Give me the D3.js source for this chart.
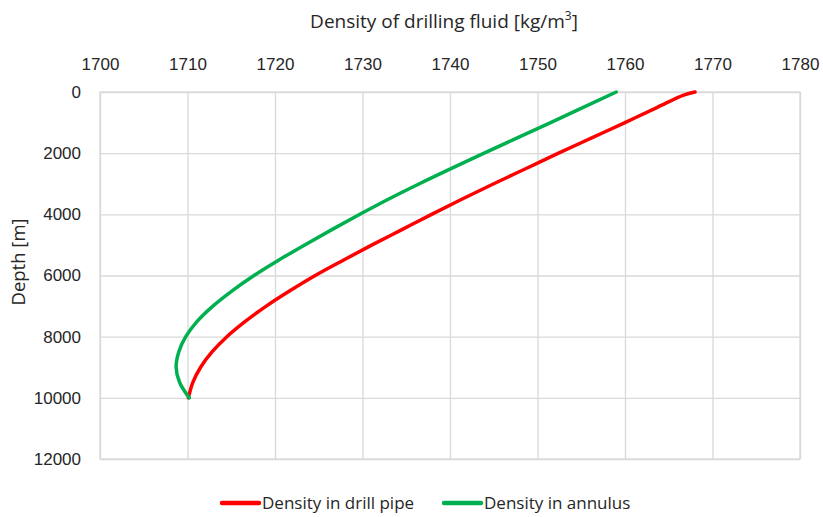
<!DOCTYPE html>
<html>
<head>
<meta charset="utf-8">
<script src="https://cdn.jsdelivr.net/npm/d3@7"></script>
<style>
  body { margin: 0; background: #fff; }
  svg { font-family: 'Open Sans', sans-serif; }
</style>
</head>
<body>
<svg></svg>
<script>
/* global d3 */
const width = 823
const height = 517
const margin = { top: 92, bottom: 58, left: 100, right: 23 }

// depth [m] and density [kg/m3]
const depthPipe = [0, 100, 500, 1000, 1500, 2000, 2500, 3000, 3500, 4000, 4500, 5000, 5500, 6000, 6500, 7000, 7500, 8000, 8500, 9000, 9500, 10000]
const densityPipe = [1768.0, 1766.7, 1763.7, 1760.0, 1756.2, 1752.4, 1748.7, 1745.0, 1741.4, 1737.9, 1734.5, 1731.1, 1727.8, 1724.6, 1721.7, 1719.0, 1716.6, 1714.5, 1712.8, 1711.5, 1710.6, 1710.1]

const depthAnnulus = [0, 1000, 2000, 3000, 3500, 4000, 4500, 5000, 5500, 6000, 6500, 7000, 7500, 8000, 8500, 9000, 9500, 10000]
const densityAnnulus = [1759.0, 1751.5, 1743.9, 1736.5, 1733.0, 1729.7, 1726.5, 1723.4, 1720.4, 1717.6, 1715.1, 1712.9, 1711.1, 1709.8, 1709.0, 1708.7, 1709.1, 1710.2]

const xTicks = [1700, 1710, 1720, 1730, 1740, 1750, 1760, 1770, 1780]
const yTicks = [0, 2000, 4000, 6000, 8000, 10000, 12000]

const series = [
  { name: 'Density in drill pipe', color: '#ff0000', depth: depthPipe, density: densityPipe },
  { name: 'Density in annulus', color: '#00b050', depth: depthAnnulus, density: densityAnnulus }
]

const svg = d3.select('svg').attr('width', width).attr('height', height)

const xScale = d3.scaleLinear()
  .domain([1700, 1780])
  .range([margin.left, width - margin.right])

const yScale = d3.scaleLinear()
  .domain([0, 12000])
  .range([margin.top, height - margin.bottom])

const plotW = width - margin.left - margin.right
const plotH = height - margin.top - margin.bottom

/** axes with gridlines */
const xAxis = d3.axisTop(xScale)
  .tickValues(xTicks)
  .tickSizeInner(-plotH)
  .tickSizeOuter(0)
  .tickPadding(22)
  .tickFormat(d3.format('d'))

const yAxis = d3.axisLeft(yScale)
  .tickValues(yTicks)
  .tickSizeInner(-plotW)
  .tickSizeOuter(0)
  .tickPadding(19)
  .tickFormat(d3.format('d'))

const gx = svg.append('g')
  .attr('transform', `translate(0, ${margin.top})`)
  .call(xAxis)

const gy = svg.append('g')
  .attr('transform', `translate(${margin.left}, 0)`)
  .call(yAxis)

;[gx, gy].forEach(g => {
  g.select('.domain').remove()
  g.selectAll('.tick line').attr('stroke', '#d9d9d9').attr('stroke-width', 1.3)
  g.selectAll('.tick text')
    .attr('fill', '#262626')
    .style('font-size', '17px')
})

// plot border
svg.append('rect')
  .attr('x', margin.left)
  .attr('y', margin.top)
  .attr('width', plotW)
  .attr('height', plotH)
  .attr('fill', 'none')
  .attr('stroke', '#d9d9d9')
  .attr('stroke-width', 1.3)

/** curves */
const line = d3.line()
  .x(d => xScale(d[1]))
  .y(d => yScale(d[0]))
  .curve(d3.curveCatmullRom)

series.forEach(s => {
  svg.append('path')
    .datum(d3.zip(s.depth, s.density))
    .attr('d', line)
    .attr('fill', 'none')
    .attr('stroke', s.color)
    .attr('stroke-width', 3.5)
    .attr('stroke-linecap', 'round')
    .attr('stroke-linejoin', 'round')
})

/** titles */
const title = svg.append('text')
  .attr('x', 444)
  .attr('y', 28)
  .attr('text-anchor', 'middle')
  .attr('fill', '#262626')
  .style('font-size', '19px')
title.append('tspan').text('Density of drilling fluid [kg/m')
title.append('tspan').attr('dy', -8).style('font-size', '12px').text('3')
title.append('tspan').attr('dy', 8).text(']')

svg.append('text')
  .attr('transform', 'translate(25, 262) rotate(-90)')
  .attr('text-anchor', 'middle')
  .attr('fill', '#262626')
  .style('font-size', '18.5px')
  .text('Depth [m]')

/** legend */
const legend = svg.append('g')
const legendX = [222, 444]
series.forEach((s, i) => {
  const g = legend.append('g').attr('transform', `translate(${legendX[i]}, 503)`)
  g.append('line')
    .attr('x1', 0).attr('x2', 37)
    .attr('stroke', s.color)
    .attr('stroke-width', 4.5)
    .attr('stroke-linecap', 'round')
  g.append('text')
    .attr('x', 40)
    .attr('dy', '0.35em')
    .attr('fill', '#262626')
    .style('font-size', '17px')
    .text(s.name)
})
</script>
</body>
</html>
